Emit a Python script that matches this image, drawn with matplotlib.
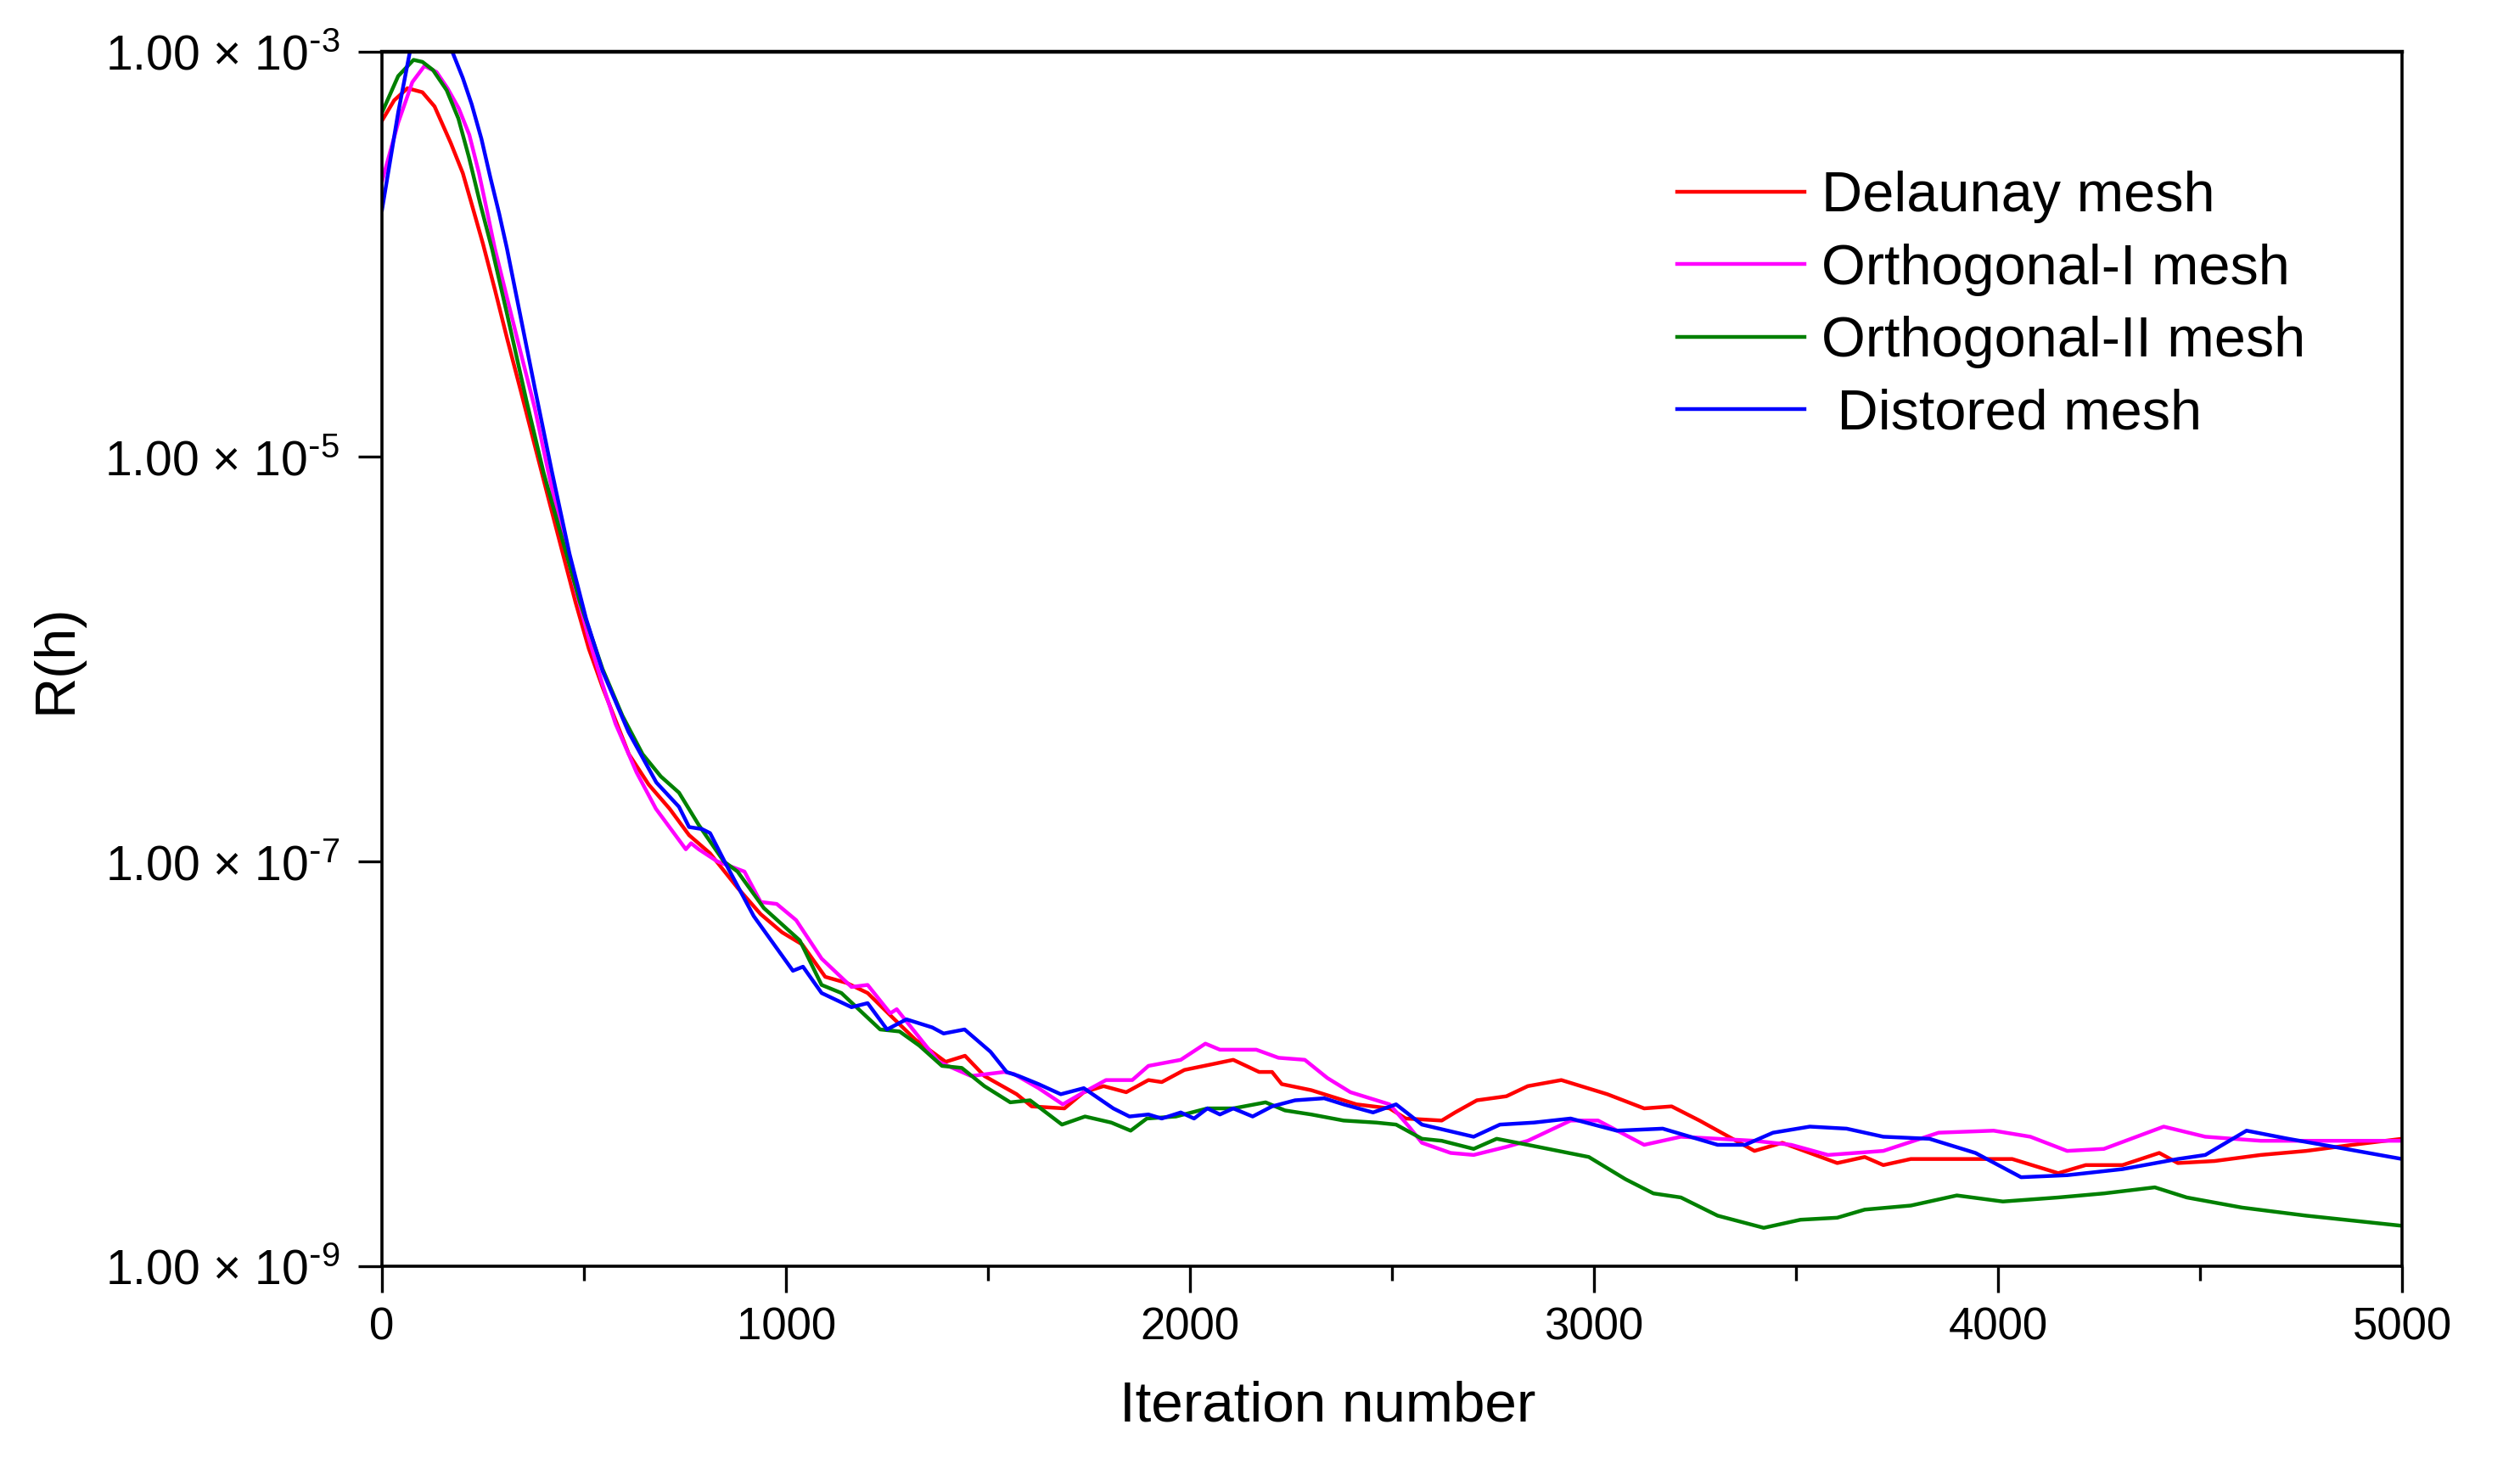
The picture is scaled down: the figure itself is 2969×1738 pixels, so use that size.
import matplotlib
matplotlib.use("Agg")
import matplotlib.pyplot as plt
import numpy as np
from matplotlib.ticker import FixedLocator, MultipleLocator, NullLocator, FuncFormatter

plt.rcParams['font.family'] = ['Liberation Sans', 'DejaVu Sans']
plt.rcParams['mathtext.default'] = 'regular'

# residual curves: iteration number and log10(R(h))
delaunay_it = [0, 30, 63, 100, 130, 170, 200, 223, 250, 280, 310, 344, 380, 411, 445, 479, 512, 546,
               611, 660, 712, 760, 812, 880, 937, 990, 1040, 1097, 1150, 1202, 1258, 1320, 1395,
               1443, 1491, 1571, 1608, 1689, 1737, 1786, 1842, 1897, 1930, 1986, 2059, 2107, 2171,
               2203, 2227, 2300, 2348, 2412, 2494, 2534, 2623, 2656, 2710, 2783, 2836, 2919, 3033,
               3124, 3192, 3261, 3397, 3466, 3602, 3670, 3716, 3784, 3875, 4035, 4149, 4217, 4308,
               4399, 4445, 4536, 4650, 4763, 4877, 5000]
delaunay_log = [-3.34, -3.24, -3.18, -3.20, -3.27, -3.45, -3.60, -3.76, -3.95, -4.18, -4.42, -4.68,
                -4.96, -5.20, -5.46, -5.72, -5.95, -6.14, -6.47, -6.62, -6.74, -6.87, -6.96, -7.13,
                -7.26, -7.35, -7.41, -7.57, -7.60, -7.65, -7.76, -7.88, -7.99, -7.96, -8.06, -8.15,
                -8.21, -8.22, -8.14, -8.11, -8.14, -8.08, -8.09, -8.03, -8.00, -7.98, -8.04, -8.04,
                -8.10, -8.13, -8.16, -8.20, -8.22, -8.27, -8.28, -8.24, -8.18, -8.16, -8.11, -8.08,
                -8.15, -8.22, -8.21, -8.28, -8.43, -8.39, -8.49, -8.46, -8.50, -8.47, -8.47, -8.47,
                -8.54, -8.50, -8.50, -8.44, -8.49, -8.48, -8.45, -8.43, -8.40, -8.37]

ortho1_it = [0, 40, 75, 105, 135, 162, 190, 216, 240, 256, 279, 310, 345, 378, 412, 445, 480, 512,
             545, 578, 630, 678, 752, 765, 784, 830, 897, 937, 977, 1025, 1088, 1162, 1202, 1258,
             1274, 1378, 1458, 1540, 1564, 1625, 1685, 1737, 1792, 1857, 1897, 1977, 2038, 2074,
             2164, 2219, 2284, 2340, 2397, 2494, 2542, 2574, 2645, 2702, 2783, 2836, 2942, 3010,
             3124, 3215, 3306, 3397, 3488, 3579, 3716, 3853, 3989, 4080, 4171, 4262, 4410, 4513,
             4650, 4809, 5000]
ortho1_log = [-3.64, -3.35, -3.15, -3.07, -3.10, -3.18, -3.28, -3.41, -3.60, -3.75, -3.97, -4.22,
              -4.50, -4.76, -5.08, -5.38, -5.66, -5.90, -6.12, -6.32, -6.56, -6.74, -6.94, -6.91,
              -6.94, -7.00, -7.05, -7.20, -7.21, -7.29, -7.48, -7.62, -7.61, -7.75, -7.73, -7.99,
              -8.06, -8.04, -8.05, -8.12, -8.20, -8.14, -8.08, -8.08, -8.01, -7.98, -7.90, -7.93,
              -7.93, -7.97, -7.98, -8.07, -8.14, -8.20, -8.31, -8.39, -8.44, -8.45, -8.41, -8.38,
              -8.28, -8.28, -8.40, -8.36, -8.37, -8.38, -8.40, -8.45, -8.43, -8.34, -8.33, -8.36,
              -8.43, -8.42, -8.31, -8.36, -8.38, -8.38, -8.38]

ortho2_it = [0, 40, 78, 100, 126, 160, 189, 215, 243, 273, 310, 357, 400, 445, 490, 546, 595, 645,
             690, 735, 784, 846, 880, 945, 1034, 1088, 1137, 1233, 1281, 1330, 1386, 1435, 1491,
             1555, 1604, 1683, 1740, 1805, 1853, 1893, 1965, 2043, 2107, 2187, 2235, 2300, 2380,
             2461, 2510, 2574, 2623, 2702, 2759, 2836, 2987, 3078, 3147, 3215, 3306, 3420, 3511,
             3602, 3670, 3784, 3898, 4012, 4149, 4262, 4388, 4467, 4604, 4763, 5000]
ortho2_log = [-3.30, -3.12, -3.04, -3.05, -3.09, -3.19, -3.33, -3.52, -3.75, -3.98, -4.30, -4.72,
              -5.08, -5.40, -5.72, -6.05, -6.28, -6.47, -6.58, -6.66, -6.82, -7.00, -7.05, -7.23,
              -7.39, -7.61, -7.65, -7.83, -7.84, -7.91, -8.01, -8.02, -8.11, -8.19, -8.18, -8.30,
              -8.26, -8.29, -8.33, -8.27, -8.26, -8.22, -8.22, -8.19, -8.23, -8.25, -8.28, -8.29,
              -8.30, -8.37, -8.38, -8.42, -8.37, -8.40, -8.46, -8.57, -8.64, -8.66, -8.75, -8.81,
              -8.77, -8.76, -8.72, -8.70, -8.65, -8.68, -8.66, -8.64, -8.61, -8.66, -8.71, -8.75,
              -8.80]

distorted_it = [0, 40, 69, 90, 120, 150, 174, 200, 222, 246, 268, 290, 309, 340, 378, 420, 464, 505,
                546, 610, 679, 735, 760, 792, 812, 853, 920, 1017, 1042, 1088, 1162, 1202, 1250,
                1298, 1362, 1390, 1442, 1506, 1546, 1576, 1625, 1680, 1737, 1810, 1850, 1897, 1930,
                1977, 2010, 2043, 2074, 2107, 2155, 2203, 2260, 2332, 2380, 2453, 2510, 2574, 2638,
                2702, 2767, 2851, 2942, 3056, 3170, 3306, 3374, 3443, 3534, 3625, 3716, 3830, 3944,
                4057, 4171, 4308, 4445, 4513, 4615, 4718, 4832, 5000]
distorted_log = [-3.78, -3.30, -3.00, -2.88, -2.84, -2.90, -3.00, -3.13, -3.26, -3.43, -3.62, -3.80,
                 -3.97, -4.28, -4.66, -5.07, -5.48, -5.80, -6.06, -6.36, -6.61, -6.73, -6.83, -6.84,
                 -6.86, -7.02, -7.27, -7.54, -7.52, -7.65, -7.72, -7.70, -7.83, -7.78, -7.82, -7.85,
                 -7.83, -7.94, -8.04, -8.06, -8.10, -8.15, -8.12, -8.22, -8.26, -8.25, -8.27, -8.24,
                 -8.27, -8.22, -8.25, -8.22, -8.26, -8.21, -8.18, -8.17, -8.20, -8.24, -8.20, -8.30,
                 -8.33, -8.36, -8.30, -8.29, -8.27, -8.33, -8.32, -8.40, -8.40, -8.34, -8.31, -8.32,
                 -8.36, -8.37, -8.44, -8.56, -8.55, -8.52, -8.47, -8.45, -8.33, -8.37, -8.41, -8.47]

labels = ['Delaunay mesh', 'Orthogonal-I mesh', 'Orthogonal-II mesh', ' Distored mesh']
colors = ['#ff0000', '#ff00ff', '#008000', '#0000ff']
y_ticks = [1e-9, 1e-7, 1e-5, 1e-3]
x_ticks = [0, 1000, 2000, 3000, 4000, 5000]


def exp_label(v, pos):
    e = int(round(np.log10(v)))
    return "1.00 \u00d7 10$^{\\text{-}%d}$" % abs(e)


def main():
    fig = plt.figure(figsize=(29.69, 17.38), dpi=100)
    ax = fig.add_axes([0.1516, 0.1415, 0.8016, 0.8234])

    series = [(delaunay_it, delaunay_log), (ortho1_it, ortho1_log),
              (ortho2_it, ortho2_log), (distorted_it, distorted_log)]
    for (it, lg), lab, col in zip(series, labels, colors):
        ax.plot(it, 10.0 ** np.array(lg), color=col, lw=3.2, label=lab)

    ax.set_yscale('log')
    ax.set_ylim(1e-9, 1e-3)
    ax.set_xlim(0, 5000)

    ax.yaxis.set_major_locator(FixedLocator(y_ticks))
    ax.yaxis.set_minor_locator(NullLocator())
    ax.yaxis.set_major_formatter(FuncFormatter(exp_label))
    ax.xaxis.set_major_locator(FixedLocator(x_ticks))
    ax.xaxis.set_minor_locator(MultipleLocator(500))

    for sp in ax.spines.values():
        sp.set_linewidth(2.6)
    ax.spines['top'].set_linewidth(3.2)

    ax.tick_params(axis='x', which='major', direction='out', length=22, width=2.4, pad=12, labelsize=38)
    ax.tick_params(axis='x', which='minor', direction='out', length=12, width=2.4)
    ax.tick_params(axis='y', which='major', direction='out', length=20, width=2.4, pad=16, labelsize=41)

    ax.set_xlabel('Iteration number', fontsize=48.5)
    ax.set_ylabel('R(h)', fontsize=48)
    ax.xaxis.set_label_coords(0.468, -0.094)
    ax.yaxis.set_label_coords(-0.148, 0.5)

    ax.legend(loc='upper left', bbox_to_anchor=(0.641, 0.902), frameon=False, fontsize=48,
              handlelength=2.25, handletextpad=0.3, labelspacing=0.35, borderpad=0, borderaxespad=0)

    plt.savefig('out.png', dpi=100)


if __name__ == '__main__':
    main()
